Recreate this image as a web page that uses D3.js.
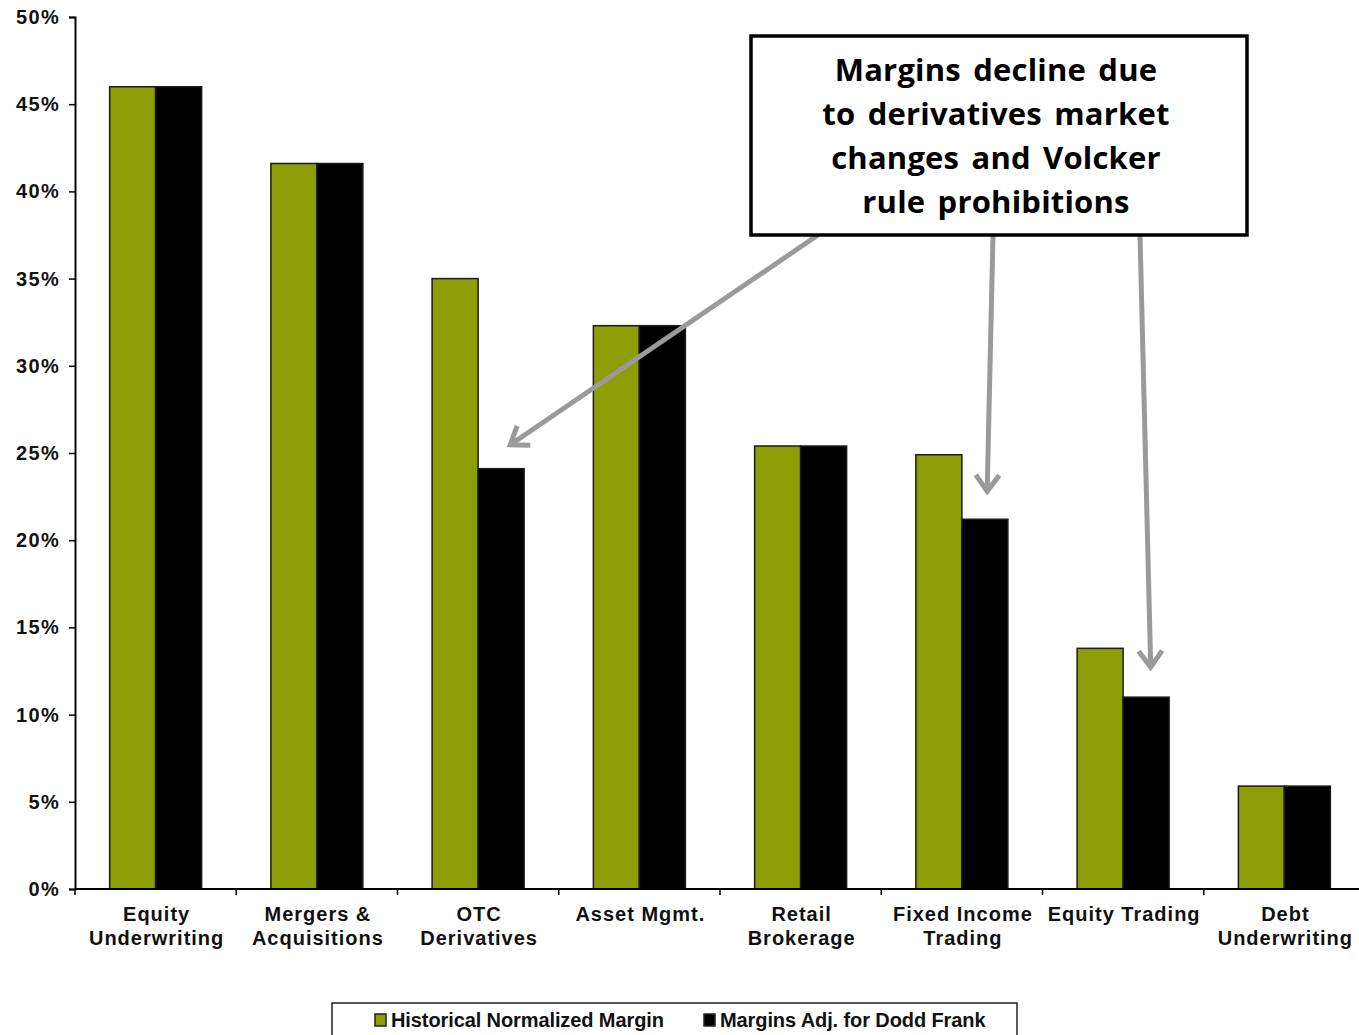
<!DOCTYPE html>
<html>
<head>
<meta charset="utf-8">
<script src="https://cdn.jsdelivr.net/npm/d3@7"></script>
<style>
  html, body { margin: 0; padding: 0; background: #fff; }
  svg { display: block; }
</style>
</head>
<body>
<svg id="chart" width="1359" height="1035"></svg>
<script>
// Operating margins by business line, before and after Dodd-Frank adjustments
const categories = [
  ["Equity", "Underwriting"],
  ["Mergers &", "Acquisitions"],
  ["OTC", "Derivatives"],
  ["Asset Mgmt."],
  ["Retail", "Brokerage"],
  ["Fixed Income", "Trading"],
  ["Equity Trading"],
  ["Debt", "Underwriting"]
];
const historicalMargin = [0.46, 0.416, 0.35, 0.323, 0.254, 0.249, 0.138, 0.059];
const doddFrankMargin  = [0.46, 0.416, 0.241, 0.323, 0.254, 0.212, 0.110, 0.059];
const seriesNames = ["Historical Normalized Margin", "Margins Adj. for Dodd Frank"];
const seriesColors = ["#8c9e05", "#000000"];
const yTicks = [0, 0.05, 0.10, 0.15, 0.20, 0.25, 0.30, 0.35, 0.40, 0.45, 0.50];
const calloutLines = [
  "Margins decline due",
  "to derivatives market",
  "changes and Volcker",
  "rule prohibitions"
];
// categories the callout points at
const calloutTargets = [2, 5, 6];

const svg = d3.select("#chart");
const plotLeft = 75, plotRight = 1365, plotTop = 17, plotBottom = 889;

const y = d3.scaleLinear().domain([0, 0.5]).range([plotBottom, plotTop]);
const x0 = d3.scaleBand().domain(d3.range(categories.length)).range([plotLeft, plotRight])
  .paddingInner(0.4295).paddingOuter(0.4295 / 2);
const x1 = d3.scaleBand().domain([0, 1]).range([0, x0.bandwidth()]).padding(0);

const labelFont = "'Liberation Sans', Arial, sans-serif";

// bars
const groups = svg.append("g").selectAll("g")
  .data(categories.map((c, i) => [historicalMargin[i], doddFrankMargin[i]]))
  .join("g")
  .attr("transform", (d, i) => `translate(${x0(i)},0)`);
groups.selectAll("rect")
  .data(d => d.map((v, s) => ({ v, s })))
  .join("rect")
  .attr("x", d => x1(d.s))
  .attr("width", x1.bandwidth())
  .attr("y", d => y(d.v))
  .attr("height", d => y(0) - y(d.v))
  .attr("fill", d => seriesColors[d.s])
  .attr("stroke", "#1a1a1a")
  .attr("stroke-width", 1.5);

// y axis
const yAxis = svg.append("g")
  .attr("transform", `translate(${plotLeft},0)`)
  .call(d3.axisLeft(y).tickValues(yTicks).tickFormat(d3.format(".0%")).tickSize(6).tickPadding(9));
yAxis.select(".domain").attr("stroke", "#000").attr("stroke-width", 2);
yAxis.selectAll(".tick line").attr("stroke", "#000").attr("stroke-width", 1.5);
yAxis.selectAll(".tick text")
  .attr("font-family", labelFont).attr("font-weight", "bold")
  .attr("font-size", 20).attr("fill", "#111").attr("letter-spacing", 1.3);

// x axis line with ticks at category boundaries
const xAxis = svg.append("g");
xAxis.append("line")
  .attr("x1", plotLeft).attr("x2", plotRight).attr("y1", y(0)).attr("y2", y(0))
  .attr("stroke", "#000").attr("stroke-width", 2);
xAxis.selectAll("line.tick")
  .data(d3.range(categories.length + 1))
  .join("line").attr("class", "tick")
  .attr("x1", i => plotLeft + i * x0.step()).attr("x2", i => plotLeft + i * x0.step())
  .attr("y1", y(0)).attr("y2", y(0) + 6)
  .attr("stroke", "#000").attr("stroke-width", 1.5);

const catLabels = xAxis.selectAll("text")
  .data(categories)
  .join("text")
  .attr("text-anchor", "middle")
  .attr("font-family", labelFont).attr("font-weight", "bold")
  .attr("font-size", 20).attr("fill", "#111").attr("letter-spacing", 1)
  .attr("transform", (d, i) => `translate(${x0(i) + x0.bandwidth() / 2 + 1},${y(0) + 32})`);
catLabels.selectAll("tspan")
  .data(d => d)
  .join("tspan")
  .attr("x", 0)
  .attr("dy", (d, i) => i === 0 ? 0 : 24)
  .text(d => d);

// callout arrows
const box = { x: 751, y: 36, w: 496, h: 199 };
const arrowColor = "#9a9a9a";
const arrowSpecs = [
  { from: [818, box.y + box.h], dx: 0.7, dy: -24 },
  { from: [993, box.y + box.h], dx: 0.55, dy: -28 },
  { from: [1140, box.y + box.h], dx: 0.6, dy: -30 }
];
const arrows = svg.append("g");
calloutTargets.forEach((ci, k) => {
  const spec = arrowSpecs[k];
  const tx = x0(ci) + x1(1) + spec.dx * x1.bandwidth();
  const ty = y(doddFrankMargin[ci]) + spec.dy;
  const [sx, sy] = spec.from;
  const ang = Math.atan2(ty - sy, tx - sx);
  const arm = 20, spread = Math.PI / 5;
  arrows.append("line")
    .attr("x1", sx).attr("y1", sy).attr("x2", tx).attr("y2", ty)
    .attr("stroke", arrowColor).attr("stroke-width", 5);
  const p1 = [tx - arm * Math.cos(ang - spread), ty - arm * Math.sin(ang - spread)];
  const p2 = [tx - arm * Math.cos(ang + spread), ty - arm * Math.sin(ang + spread)];
  arrows.append("path")
    .attr("d", `M${p1[0]},${p1[1]}L${tx},${ty}L${p2[0]},${p2[1]}`)
    .attr("fill", "none").attr("stroke", arrowColor).attr("stroke-width", 5)
    .attr("stroke-linejoin", "miter").attr("stroke-linecap", "butt");
});

// callout box
const callout = svg.append("g");
callout.append("rect")
  .attr("x", box.x).attr("y", box.y).attr("width", box.w).attr("height", box.h)
  .attr("fill", "#fff").attr("stroke", "#000").attr("stroke-width", 3.5);
callout.selectAll("text")
  .data(calloutLines)
  .join("text")
  .attr("x", box.x + box.w / 2 - 3)
  .attr("y", (d, i) => 81 + i * 44)
  .attr("text-anchor", "middle")
  .attr("font-family", "'Open Sans', 'Noto Sans', sans-serif")
  .attr("font-weight", "bold").attr("font-size", 31).attr("fill", "#000")
  .attr("letter-spacing", 0.2).attr("word-spacing", 4)
  .text(d => d);

// legend
const legend = svg.append("g");
legend.append("rect")
  .attr("x", 332).attr("y", 1003).attr("width", 685).attr("height", 60)
  .attr("fill", "#fff").attr("stroke", "#222").attr("stroke-width", 1.5);
const legendX = [375, 704];
const items = legend.selectAll("g.item")
  .data(seriesNames)
  .join("g").attr("class", "item")
  .attr("transform", (d, i) => `translate(${legendX[i]},1014)`);
items.append("rect")
  .attr("width", 11).attr("height", 12)
  .attr("fill", (d, i) => seriesColors[i])
  .attr("stroke", "#222").attr("stroke-width", 1.5);
items.append("text")
  .attr("x", 16).attr("y", 13)
  .attr("font-family", labelFont).attr("font-weight", "bold")
  .attr("font-size", 20).attr("fill", "#111").attr("letter-spacing", -0.1)
  .text(d => d);
</script>
</body>
</html>
